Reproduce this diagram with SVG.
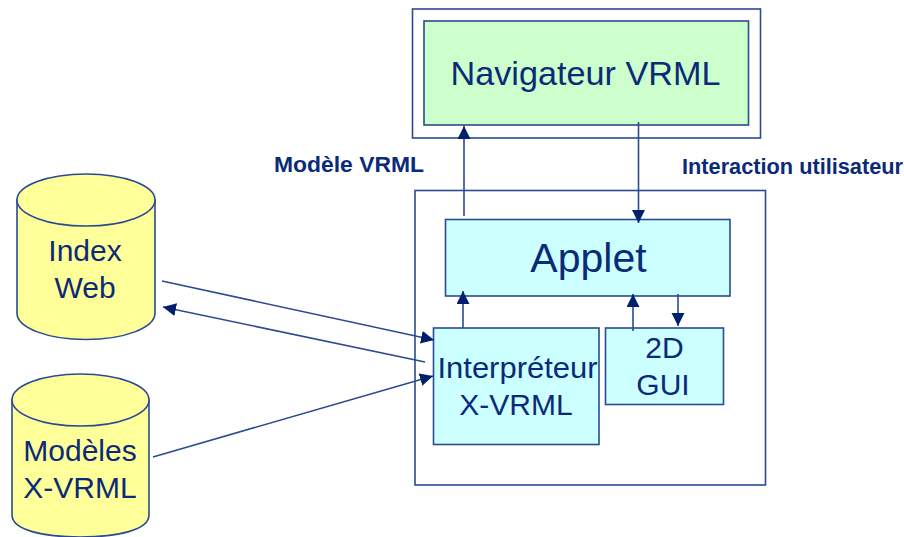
<svg xmlns="http://www.w3.org/2000/svg" width="904" height="537" viewBox="0 0 904 537">
<style>
.b{stroke:#2b4a93;stroke-width:1.6}
.w{fill:#fff}.g{fill:#ccffcc}.c{fill:#ccffff}.y{fill:#ffff99}
text{font-family:"Liberation Sans",Arial,sans-serif;fill:#0b2a78;text-anchor:middle}
.t{font-size:30px}
.l{font-size:22px;font-weight:bold}
.k{fill:none;stroke:#2b4a93;stroke-width:1.6}
</style>
<defs>
<marker id="a" markerUnits="userSpaceOnUse" markerWidth="14" markerHeight="14" refX="13" refY="6.500" orient="auto"><path d="M0 0L13 6.500L0 13Z" fill="#00206f"/></marker>
</defs>
<rect width="904" height="537" fill="#fff"/>
<g id="navigateur-frame"><rect class="b w" x="412.500" y="9" width="348" height="129"/></g>
<g id="navigateur"><rect class="b g" x="424" y="21" width="324.500" height="104"/><text x="585.500" y="85" font-size="34" textLength="270" lengthAdjust="spacingAndGlyphs">Navigateur VRML</text></g>
<g id="applet-frame"><rect class="b w" x="415" y="190.500" width="350.500" height="294.500"/></g>
<g id="applet"><rect class="b c" x="445.500" y="219.500" width="284.500" height="76.500"/><text x="588.500" y="272" font-size="41">Applet</text></g>
<g id="interpreteur"><rect class="b c" x="433.500" y="328" width="165.500" height="116.500"/><text class="t" x="517.500" y="378" textLength="160" lengthAdjust="spacingAndGlyphs">Interpréteur</text><text class="t" x="516" y="415">X-VRML</text></g>
<g id="gui"><rect class="b c" x="605.500" y="328" width="118" height="76.500"/><text class="t" x="664.500" y="358">2D</text><text class="t" x="663" y="395">GUI</text></g>
<g id="index-web"><path class="b y" d="M17 200V313C17 328 48 339.500 86 339.500S155 328 155 313V200Z"/><ellipse class="b y" cx="86" cy="200" rx="69" ry="26"/><text class="t" x="85" y="261">Index</text><text class="t" x="85" y="298">Web</text></g>
<g id="modeles"><path class="b y" d="M12 400V515C12 530 43 537 80.500 537S149 530 149 515V400Z"/><ellipse class="b y" cx="80.500" cy="400" rx="68.500" ry="26"/><text class="t" x="80" y="461">Modèles</text><text class="t" x="80" y="498">X-VRML</text></g>
<g id="connectors">
<path class="k" marker-end="url(#a)" d="M464 216V126"/>
<path class="k" marker-end="url(#a)" d="M638.500 122V223"/>
<path class="k" marker-end="url(#a)" d="M463 328V291"/>
<path class="k" marker-end="url(#a)" d="M633 331V294"/>
<path class="k" marker-end="url(#a)" d="M678 294V326"/>
<path class="k" marker-end="url(#a)" d="M162 281L434 340"/>
<path class="k" marker-end="url(#a)" d="M425 362L163 307"/>
<path class="k" marker-end="url(#a)" d="M153 457L433 376"/>
</g>
<g id="labels"><text class="l" x="349" y="172" textLength="150" lengthAdjust="spacingAndGlyphs">Modèle VRML</text><text class="l" x="792.500" y="174" textLength="221" lengthAdjust="spacingAndGlyphs">Interaction utilisateur</text></g>
</svg>
